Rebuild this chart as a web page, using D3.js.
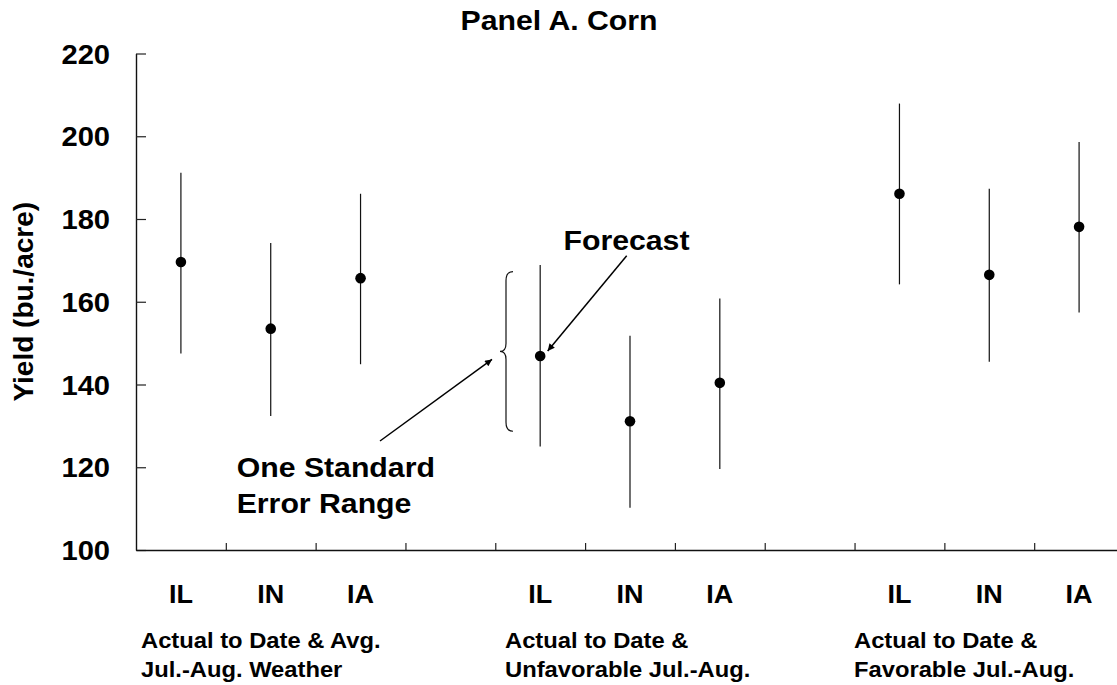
<!DOCTYPE html>
<html>
<head>
<meta charset="utf-8">
<script src="https://cdnjs.cloudflare.com/ajax/libs/d3/7.8.5/d3.min.js"></script>
<style>
  body { margin: 0; background: #fff; }
  svg text { font-family: "Liberation Sans", Arial, sans-serif; font-weight: bold; fill: #000; }
</style>
</head>
<body>
<svg id="chart" width="1117" height="685"></svg>
<script>
// chart data
var states = ["IL", "IN", "IA"];
var groupLabels = [
  ["Actual to Date & Avg.", "Jul.-Aug. Weather"],
  ["Actual to Date &", "Unfavorable Jul.-Aug."],
  ["Actual to Date &", "Favorable Jul.-Aug."]
];
var forecast = [169.6, 153.5, 165.7, 146.9, 131.1, 140.4, 186.1, 166.5, 178.1];
var upper    = [191.2, 174.2, 186.1, 168.9, 151.8, 160.8, 207.9, 187.3, 198.6];
var lower    = [147.5, 132.4, 144.9, 125.0, 110.2, 119.6, 164.2, 145.5, 157.4];
var yTicks = [100, 120, 140, 160, 180, 200, 220];
var braceRange = [128.7, 167.3]; // one standard error bracket around IL forecast

var svg = d3.select("#chart");
var sx = 1.08; // text is a bit wide in the original

// 11 slots: 3 states, gap, 3 states, gap, 3 states
var x = d3.scaleLinear().domain([0, 11]).range([136, 1124]);
var y = d3.scaleLinear().domain([100, 220]).range([550, 53.5]);

var points = forecast.map(function (v, i) {
  var g = Math.floor(i / 3), s = i % 3;
  return { slot: g * 4 + s, state: states[s], mid: v, hi: upper[i], lo: lower[i] };
});

function label(x0, y0, txt, size, anchor) {
  return svg.append("text")
    .attr("transform", "translate(" + x0 + "," + y0 + ") scale(" + sx + ",1)")
    .attr("text-anchor", anchor || "start")
    .style("font-size", size + "px")
    .text(txt);
}

// y axis, ticks pointing in
var yAxis = svg.append("g")
  .attr("transform", "translate(" + x(0) + ",0)")
  .call(d3.axisLeft(y).tickValues(yTicks).tickSize(-10).tickSizeOuter(0).tickPadding(24));
yAxis.selectAll("text")
  .attr("dy", "0.36em")
  .attr("transform", "scale(" + sx + ",1)")
  .style("font-size", "27px");

// x axis, ticks between slots
var xAxis = svg.append("g")
  .attr("transform", "translate(0," + y(100) + ")")
  .call(d3.axisBottom(x).tickValues(d3.range(1, 11)).tickSize(-7).tickSizeOuter(0).tickFormat(""));

svg.selectAll(".domain").attr("stroke", "#111").attr("stroke-width", 1.4);
svg.selectAll(".tick line").attr("stroke", "#222").attr("stroke-width", 1.2);

// error bars and forecasts
svg.append("g").selectAll("line").data(points).enter().append("line")
  .attr("x1", function (d) { return x(d.slot + 0.5); })
  .attr("x2", function (d) { return x(d.slot + 0.5); })
  .attr("y1", function (d) { return y(d.lo); })
  .attr("y2", function (d) { return y(d.hi); })
  .attr("stroke", "#111")
  .attr("stroke-width", 1.2);

svg.append("g").selectAll("circle").data(points).enter().append("circle")
  .attr("cx", function (d) { return x(d.slot + 0.5); })
  .attr("cy", function (d) { return y(d.mid); })
  .attr("r", 5.3)
  .attr("fill", "#000");

// state labels
points.forEach(function (d) {
  label(x(d.slot + 0.5), 603, d.state, 25, "middle");
});

// group labels
var groupX = [141, 505, 854];
groupLabels.forEach(function (lines, g) {
  label(groupX[g], 648, lines[0], 22);
  label(groupX[g], 677, lines[1], 22);
});

// title and y label
label(559, 30, "Panel A. Corn", 28, "middle");
svg.append("text")
  .attr("transform", "translate(33," + ((y(100) + y(220)) / 2) + ") rotate(-90)")
  .attr("text-anchor", "middle")
  .style("font-size", "28px")
  .text("Yield (bu./acre)");

// annotations
svg.append("defs").append("marker")
  .attr("id", "arrow")
  .attr("viewBox", "0 0 10 10")
  .attr("refX", 10).attr("refY", 5)
  .attr("markerWidth", 10).attr("markerHeight", 7)
  .attr("markerUnits", "userSpaceOnUse")
  .attr("orient", "auto")
  .append("path").attr("d", "M0,0L10,5L0,10z").attr("fill", "#000");

// brace beside the IL (unfavorable) bar
var bTop = y(braceRange[1]), bBot = y(braceRange[0]), bMid = (bTop + bBot) / 2;
var bx = 513, bv = 506, bt = 500;
svg.append("path")
  .attr("d",
    "M" + bx + "," + bTop +
    " Q" + bv + "," + bTop + " " + bv + "," + (bTop + 9) +
    " L" + bv + "," + (bMid - 8) +
    " Q" + bv + "," + bMid + " " + bt + "," + bMid +
    " Q" + bv + "," + bMid + " " + bv + "," + (bMid + 8) +
    " L" + bv + "," + (bBot - 9) +
    " Q" + bv + "," + bBot + " " + bx + "," + bBot)
  .attr("fill", "none")
  .attr("stroke", "#111")
  .attr("stroke-width", 1.2);

var il2 = points[3];
label(626.5, 250, "Forecast", 28, "middle");
svg.append("line")
  .attr("x1", 626.7).attr("y1", 255.7)
  .attr("x2", x(il2.slot + 0.5) + 7.5).attr("y2", y(il2.mid) - 5)
  .attr("stroke", "#000").attr("stroke-width", 1.5)
  .attr("marker-end", "url(#arrow)");

label(236.7, 477, "One Standard", 28);
label(236.7, 513, "Error Range", 28);
svg.append("line")
  .attr("x1", 380).attr("y1", 441)
  .attr("x2", bt - 8).attr("y2", bMid + 8)
  .attr("stroke", "#000").attr("stroke-width", 1.5)
  .attr("marker-end", "url(#arrow)");
</script>
</body>
</html>
